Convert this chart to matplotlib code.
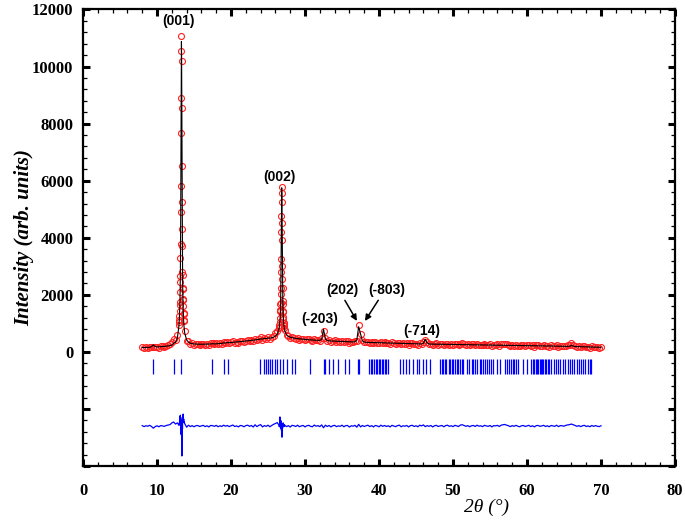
import numpy as np
import matplotlib
matplotlib.use("Agg")
import matplotlib.pyplot as plt
from matplotlib.ticker import MultipleLocator, FixedLocator, FuncFormatter

# ---- data ----
# scan is split in segments: coarse 0.25 deg steps, fine 0.02 deg steps over the two big peaks
calc_a = [152, 153, 155, 156, 158, 182, 245, 188, 173, 177,
          180, 186, 192, 199, 208, 221, 241, 302, 334, 484]
diff_a = [15, -20, 10, -5, 25, -15, -75, -20, 10, -25,
          15, 5, -10, 20, 35, 50, 110, 140, 70, 110]

calc_b = [909, 984, 1071, 1175, 1295, 1439, 1604, 1817, 2083, 2429, 2908, 3606,
          4607, 5949, 7568, 9187, 10411, 10880, 10411, 9187, 7568, 5949, 4607,
          3606, 2908, 2429, 2083, 1817, 1604, 1439, 1295, 1175, 1071, 984, 909]
diff_b = [30, 60, 40, 90, 120, 200, 150, 280, 350, 240, 380, 160, 300, -150, 100,
          -300, 150, 200, -200, -650, -1050, -700, -300, 100, -100, 250, 150, 380,
          200, 420, 300, 180, 250, 120, 160]

calc_c = [650, 419, 340, 305, 288, 278, 272, 269, 268, 267,
          268, 270, 272, 274, 276, 288, 278, 283, 288, 293,
          298, 315, 311, 326, 322, 328, 334, 340, 346, 352,
          359, 366, 373, 380, 388, 396, 404, 412, 420, 428,
          436, 454, 452, 470, 467, 484, 480, 496, 512, 558, 618]
diff_c = [80, -40, 30, -20, 15, -25, 10, 20, -15, 5,
          25, -20, 10, -30, 20, 15, -10, 25, -25, 10,
          -15, 30, -5, 20, -20, 10, 35, -15, 5, -30,
          20, 10, -25, 15, 30, -10, 20, -35, 45, -20,
          25, 50, -30, 15, -10, 30, -25, 20, 60, 90, 120]

calc_d = [835, 872, 915, 966, 1025, 1096, 1177, 1282, 1414, 1584, 1820, 2164,
          2658, 3319, 4117, 4915, 5519, 5750, 5519, 4915, 4117, 3319, 2658,
          2164, 1820, 1584, 1414, 1282, 1177, 1096, 1025, 966, 915, 872, 835]
diff_d = [20, -30, 40, 80, 150, 320, 250, 180, 280, 120, 200, 60, 150, -80, 100,
          -150, 50, 30, -250, -390, -200, -300, -120, 60, -40, 90, 20, 110, 40,
          70, -20, 50, 10, 40, -10]

calc_e = [751, 596, 542, 513, 496, 483, 473, 465, 457, 450,
          444, 438, 428, 424, 420, 416, 412, 408, 404, 400,
          447, 794, 451, 403, 385, 382, 379, 376, 373, 370,
          367, 364, 361, 358, 355, 352, 350, 348, 356, 414,
          882, 640, 388, 351, 334, 332, 330, 328, 326, 324,
          322, 320, 318, 316, 314, 312, 310, 308, 306, 304,
          302, 300, 298, 296, 294, 292, 290, 288, 286, 284,
          282, 280, 279, 278, 277, 306, 445, 319, 281, 272,
          271, 270, 269, 268, 267, 266, 265, 264, 263, 262,
          261, 260, 259, 258, 257, 256, 255, 254, 253, 252,
          251, 250, 249, 248, 247, 246, 245, 244, 243, 242,
          241, 240, 239, 238, 237, 236, 235, 234, 233, 232,
          231, 230, 229, 228, 227, 226, 225, 224, 223, 222,
          221, 220, 219, 218, 217, 215, 214, 213, 212, 210,
          209, 208, 207, 205, 204, 203, 202, 200, 199, 198,
          197, 195, 194, 193, 192, 230, 203, 187, 185, 183,
          181, 179, 177, 175, 173, 171, 169, 167, 165, 163,
          161, 160]
diff_e = [30, -20, 15, -35, 25, 10, -15, 30, -25, 5,
          20, -30, 10, 25, -10, -25, 35, -5, 15, -20,
          40, -60, 30, -15, 20, -30, 10, 25, -20, 5,
          -10, 30, -25, 15, 20, -35, 10, -5, 25, -40,
          60, -30, 20, -15, 10, 30, -20, 15, -30, 20,
          5, -25, 30, -10, 20, -15, 10, -30, 25, 0,
          -20, 15, 30, -25, 10, -5, 20, -30, 15, 25,
          -15, 10, -25, 30, 5, 40, -20, 15, -10, 20,
          -30, 10, 25, -15, 5, 20, -25, 15, 30, -10,
          10, -20, 25, 5, -15, 35, 45, 20, -10, 15,
          -25, 10, 20, -15, 30, -5, 10, -20, 25, 5,
          -10, 20, -30, 15, 5, 25, -15, 30, 45, 55,
          30, 10, -20, 15, -10, 25, -5, -25, 10, 20,
          -15, 5, 25, -20, 10, -30, 15, 20, -10, 5,
          25, -15, 10, -25, 20, 5, -10, 30, -20, 15,
          10, -5, 25, 40, 50, 70, 45, 20, -10, 15,
          -20, 10, 25, -15, 5, -25, 20, -10, 15, -5,
          -20, 10]

bragg_pos = [9.51, 12.30, 13.30, 17.48, 19.05, 19.64, 23.92, 24.40, 24.70, 24.95,
             25.27, 25.59, 25.90, 26.22, 26.62, 27.07, 27.52, 28.20, 28.70, 30.68,
             32.57, 32.75, 33.20, 33.75, 34.50, 35.40, 36.00, 37.20, 37.34, 38.70,
             38.85, 39.00, 39.30, 39.55, 39.70, 40.00, 40.20, 40.40, 40.60, 40.80,
             41.00, 41.20, 42.90, 43.30, 43.60, 44.10, 44.60, 45.10, 45.40, 45.90,
             46.35, 46.95, 48.20, 48.45, 48.70, 48.90, 49.10, 49.40, 49.60, 49.80,
             50.00, 50.25, 50.50, 50.70, 50.95, 51.20, 51.40, 51.90, 52.20, 52.50,
             52.75, 53.00, 53.20, 53.60, 53.85, 54.10, 54.35, 54.60, 54.85, 55.10,
             55.40, 56.00, 56.40, 57.00, 57.25, 57.50, 57.80, 58.05, 58.30, 58.55,
             58.80, 59.40, 59.96, 60.60, 60.80, 61.00, 61.20, 61.40, 61.55, 61.70,
             61.85, 62.00, 62.20, 62.40, 62.60, 62.80, 63.00, 63.30, 63.60, 63.90,
             64.20, 64.50, 64.90, 65.20, 65.50, 65.80, 66.10, 66.40, 66.70, 67.00,
             67.30, 67.60, 67.90, 68.20, 68.45, 68.70]

peak_labels = ["(001)", "(002)", "(-203)", "(202)", "(-803)", "(-714)"]
label_pos = [(12.9, 11600), (26.6, 6120), (32.0, 1160), (35.0, 2180), (41.0, 2180), (45.8, 740)]

diff_offset = -2600
tick_lo, tick_hi = -780, -250

# ---- assemble scan ----
segs = [(8.0, 0.25, calc_a, diff_a), (12.96, 0.02, calc_b, diff_b),
        (13.75, 0.25, calc_c, diff_c), (26.51, 0.02, calc_d, diff_d),
        (27.25, 0.25, calc_e, diff_e)]
tt, ycal, ydif = [], [], []
for start, step, c, d in segs:
    assert len(c) == len(d), (start, len(c), len(d))
    tt.append(start + step * np.arange(len(c)))
    ycal.append(np.array(c, float))
    ydif.append(np.array(d, float))
tt = np.concatenate(tt)
ycal = np.concatenate(ycal)
ydif = np.concatenate(ydif)
yobs = ycal + ydif

# ---- plot ----
fig = plt.figure(figsize=(6.85, 5.24), dpi=100)
ax = fig.add_axes([0.1212, 0.1107, 0.8642, 0.8712])

ax.plot(tt, yobs, 'o', ms=4.3, mfc='none', mec='#ff2020', mew=0.8, zorder=2)
ax.plot(tt, ycal, '-', color='black', lw=0.8, zorder=3)
ax.vlines(bragg_pos, tick_lo, tick_hi, color='#0000ff', lw=0.9, zorder=2)
ax.plot(tt, ydif + diff_offset, '-', color='#0000ff', lw=0.9, zorder=2)

for txt, (x, y) in zip(peak_labels, label_pos):
    ax.text(x, y, txt, ha='center', va='center', fontsize=10, fontweight='bold',
            family='Liberation Sans')

arrow_kw = dict(arrowstyle='-|>', color='black', lw=1.1, mutation_scale=9)
ax.annotate('', xy=(37.2, 1000), xytext=(35.2, 1890), arrowprops=arrow_kw)
ax.annotate('', xy=(37.9, 1000), xytext=(40.1, 1890), arrowprops=arrow_kw)

ax.set_xlim(0, 80)
ax.set_ylim(-4000, 12000)
ax.xaxis.set_major_locator(MultipleLocator(10))
ax.xaxis.set_minor_locator(MultipleLocator(2))
ax.yaxis.set_major_locator(FixedLocator(np.arange(-4000, 12001, 2000)))
ax.yaxis.set_minor_locator(MultipleLocator(400))
ax.yaxis.set_major_formatter(FuncFormatter(lambda v, p: '' if v < 0 else f'{v:.0f}'))

for s in ax.spines.values():
    s.set_linewidth(1.6)
ax.tick_params(which='both', direction='in', top=True, right=True)
ax.tick_params(which='major', length=5, width=2.2)
ax.tick_params(which='minor', length=3.2, width=0.9)
ax.tick_params(axis='x', which='major', pad=12)
ax.tick_params(axis='y', which='major', pad=7)
for lab in ax.get_xticklabels() + ax.get_yticklabels():
    lab.set_family('Liberation Serif')
    lab.set_fontweight('bold')
    lab.set_fontsize(12)

ax.set_ylabel('Intensity (arb. units)', family='Liberation Serif', fontsize=15,
              fontweight='bold', style='italic', labelpad=-2)
ax.set_xlabel('2θ (°)', family='Liberation Serif', fontsize=14, style='italic', labelpad=0)
ax.xaxis.label.set_x(0.682)

fig.savefig('out.png', dpi=100)
